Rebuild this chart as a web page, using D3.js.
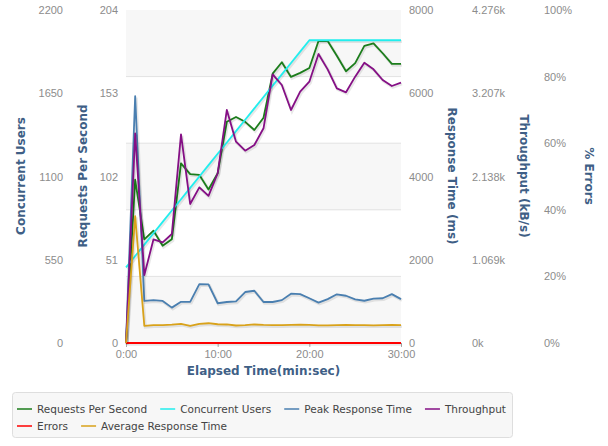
<!DOCTYPE html>
<html>
<head>
<meta charset="utf-8">
<script src="https://cdn.jsdelivr.net/npm/d3@7"></script>
<style>
  body { margin: 0; background: #fff; }
  svg { font-family: "DejaVu Sans", sans-serif; }
  .tick text { fill: #8c8c8c; font-size: 11px; }
  .axisTitle { fill: #3f5f86; font-size: 12px; font-weight: bold; }
  .legendText { fill: #444; font-size: 10.5px; }
</style>
</head>
<body>
<script>
// Elapsed time in minutes
var minutes = [0,1,2,3,4,5,6,7,8,9,10,11,12,13,14,15,16,17,18,19,20,21,22,23,24,25,26,27,28,29,30];

// Series values, one per minute
var requestsPerSecond = [0,100,63.5,68.8,59.6,63.5,110,103.5,103,94,104,135.5,138.5,135.5,130.5,138,165,172,163,165.5,168.5,185,185,176,166.5,171.5,182,183.5,177.5,171,171];
var concurrentUsers = [500,575,650,725,800,875,950,1025,1100,1175,1250,1325,1400,1475,1550,1625,1700,1775,1850,1925,2000,2000,2000,2000,2000,2000,2000,2000,2000,2000,2000];
var peakResponseTime = [0,5930,1010,1030,1010,850,990,990,1415,1410,955,985,1000,1225,1255,985,985,1030,1185,1175,1075,970,1055,1170,1135,1050,1015,1065,1075,1175,1055];
var throughput = [0,2693,873,1331,1293,1400,2680,1785,1999,1890,2180,2992,2585,2470,2542,2757,3450,3313,2992,3227,3355,3711,3514,3270,3219,3420,3599,3514,3377,3300,3343];
var errorPercent = [0,0,0,0,0,0,0,0,0,0,0,0,0,0,0,0,0,0,0,0,0,0,0,0,0,0,0,0,0,0,0];
var avgResponseTime = [0,3050,410,430,430,440,460,410,460,475,450,445,420,430,445,435,430,430,435,440,435,425,425,430,435,430,430,425,430,435,430];

// Tick values and labels
var timeTicks = [0, 10, 20, 30];
var userTicks = [0, 550, 1100, 1650, 2200];
var rpsTicks = [0, 51, 102, 153, 204];
var responseTicks = [0, 2000, 4000, 6000, 8000];
var throughputTicks = [0, 1069, 2138, 3207, 4276];
var throughputLabels = ["0k", "1.069k", "2.138k", "3.207k", "4.276k"];
var errorTicks = [0, 20, 40, 60, 80, 100];

// Legend names and colours, in drawing order
var seriesNames = ["Requests Per Second", "Concurrent Users", "Peak Response Time", "Throughput", "Errors", "Average Response Time"];
var seriesColors = ["#1b7d1b", "#22eeee", "#4a7fb0", "#850f85", "#ff0000", "#d9a21a"];

window.onload = function(){

    var w = 608, h = 446;
    var left = 126, right = 401, top = 10, bottom = 343;

    var svg = d3.select("body")
        .append("svg")
        .attr("width", w)
        .attr("height", h);

    // Scales
    var x = d3.scaleLinear().domain([0, 30]).range([left, right]);
    var yUsers = d3.scaleLinear().domain([0, 2200]).range([bottom, top]);
    var yRps = d3.scaleLinear().domain([0, 204]).range([bottom, top]);
    var yResp = d3.scaleLinear().domain([0, 8000]).range([bottom, top]);
    var yThru = d3.scaleLinear().domain([0, 4276]).range([bottom, top]);
    var yErr = d3.scaleLinear().domain([0, 100]).range([bottom, top]);

    var plain = d3.format("d");

    // Alternating background bands, following the % errors ticks
    var bands = d3.pairs(errorTicks);
    svg.selectAll(".band")
        .data(bands)
        .enter()
        .append("rect")
        .attr("class", "band")
        .attr("x", left)
        .attr("width", right - left)
        .attr("y", function(d){ return yErr(d[1]); })
        .attr("height", function(d){ return yErr(d[0]) - yErr(d[1]); })
        .style("fill", function(d, i){ return i % 2 === 0 ? "#f7f7f7" : "#ffffff"; });

    // Grid lines
    svg.selectAll(".grid")
        .data(errorTicks.slice(1, -1))
        .enter()
        .append("line")
        .attr("x1", left)
        .attr("x2", right)
        .attr("y1", function(d){ return yErr(d); })
        .attr("y2", function(d){ return yErr(d); })
        .style("stroke", "#e2e2e2")
        .style("stroke-width", 1);

    // Y axes, no lines or ticks, labels only
    function plainAxis(g){
        g.select(".domain").remove();
        g.selectAll(".tick line").remove();
    }

    svg.append("g")
        .attr("transform", "translate(63,0)")
        .call(d3.axisLeft(yUsers).tickValues(userTicks).tickSize(0).tickPadding(0).tickFormat(plain))
        .call(plainAxis);

    svg.append("g")
        .attr("transform", "translate(118,0)")
        .call(d3.axisLeft(yRps).tickValues(rpsTicks).tickSize(0).tickPadding(0).tickFormat(plain))
        .call(plainAxis);

    svg.append("g")
        .attr("transform", "translate(409,0)")
        .call(d3.axisRight(yResp).tickValues(responseTicks).tickSize(0).tickPadding(0).tickFormat(plain))
        .call(plainAxis);

    svg.append("g")
        .attr("transform", "translate(472,0)")
        .call(d3.axisRight(yThru).tickValues(throughputTicks).tickSize(0).tickPadding(0)
            .tickFormat(function(d, i){ return throughputLabels[i]; }))
        .call(plainAxis);

    svg.append("g")
        .attr("transform", "translate(544,0)")
        .call(d3.axisRight(yErr).tickValues(errorTicks).tickSize(0).tickPadding(0)
            .tickFormat(function(d){ return d + "%"; }))
        .call(plainAxis);

    // X axis
    var xAxis = svg.append("g")
        .attr("transform", "translate(0," + bottom + ")")
        .call(d3.axisBottom(x).tickValues(timeTicks).tickSize(4).tickPadding(3)
            .tickFormat(function(d){ return d + ":00"; }));
    xAxis.select(".domain").remove();
    xAxis.selectAll(".tick line").style("stroke", "#aaa");

    // Axis titles
    svg.append("text").attr("class", "axisTitle")
        .attr("text-anchor", "middle")
        .attr("transform", "translate(25,176) rotate(-90)")
        .text("Concurrent Users");

    svg.append("text").attr("class", "axisTitle")
        .attr("text-anchor", "middle")
        .attr("transform", "translate(87,176) rotate(-90)")
        .text("Requests Per Second");

    svg.append("text").attr("class", "axisTitle")
        .attr("text-anchor", "middle")
        .attr("transform", "translate(448,176) rotate(90)")
        .text("Response Time (ms)");

    svg.append("text").attr("class", "axisTitle")
        .attr("text-anchor", "middle")
        .attr("transform", "translate(520,176) rotate(90)")
        .text("Throughput (kB/s)");

    svg.append("text").attr("class", "axisTitle")
        .attr("text-anchor", "middle")
        .attr("transform", "translate(585,176) rotate(90)")
        .text("% Errors");

    svg.append("text").attr("class", "axisTitle")
        .attr("text-anchor", "middle")
        .attr("x", (left + right) / 2)
        .attr("y", 375)
        .text("Elapsed Time(min:sec)");

    // Series, each on its own scale
    var seriesValues = [requestsPerSecond, concurrentUsers, peakResponseTime, throughput, errorPercent, avgResponseTime];
    var seriesScales = [yRps, yUsers, yResp, yThru, yErr, yResp];

    seriesValues.forEach(function(values, s){
        var line = d3.line()
            .x(function(d, i){ return x(minutes[i]); })
            .y(function(d){ return seriesScales[s](d); });

        // soft shadow under the line
        svg.append("path")
            .datum(values)
            .attr("d", line)
            .attr("transform", "translate(1,1.3)")
            .style("fill", "none")
            .style("stroke", "rgba(0,0,0,0.09)")
            .style("stroke-width", 3);

        svg.append("path")
            .datum(values)
            .attr("d", line)
            .style("fill", "none")
            .style("stroke", seriesColors[s])
            .style("stroke-width", 1.8)
            .style("stroke-linejoin", "round");
    });

    // Legend box
    svg.append("rect")
        .attr("x", 12.5).attr("y", 392.5)
        .attr("width", 500).attr("height", 45)
        .attr("rx", 3)
        .style("fill", "#f7f7f7")
        .style("stroke", "#dedede");

    var lx = 17, ly = 409;
    seriesNames.forEach(function(name, i){
        var item = svg.append("g");
        var label = item.append("text")
            .attr("class", "legendText")
            .attr("x", 20)
            .attr("y", 4)
            .text(name);
        var tw = label.node().getComputedTextLength();
        if (lx + 20 + tw > 508) { lx = 17; ly += 17; }
        item.attr("transform", "translate(" + lx + "," + ly + ")");
        item.append("line")
            .attr("x1", 0).attr("x2", 15)
            .attr("y1", 0).attr("y2", 0)
            .style("stroke", seriesColors[i])
            .style("stroke-width", 1.5);
        lx += 20 + tw + 13;
    });
};
</script>
</body>
</html>
